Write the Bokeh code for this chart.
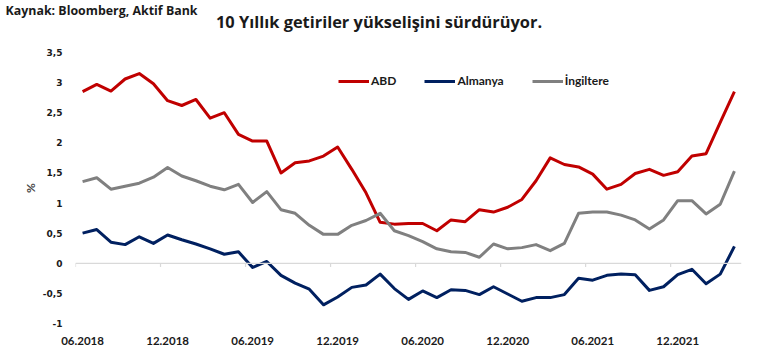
from bokeh.plotting import figure
from bokeh.models import (FixedTicker, CustomJSTickFormatter, Span, Legend,
                          LegendItem, Range1d, Div)
from bokeh.layouts import column
from bokeh.embed import file_html
from bokeh.resources import INLINE
import pandas as pd

# ---- data ----
months = [p.strftime("%m.%Y") for p in pd.period_range("2018-06", "2022-04", freq="M")]
tick_labels = ["06.2018", "12.2018", "06.2019", "12.2019",
               "06.2020", "12.2020", "06.2021", "12.2021"]
abd = [2.85, 2.97, 2.86, 3.06, 3.15, 2.98, 2.70, 2.62, 2.72, 2.41, 2.50, 2.14,
       2.03, 2.03, 1.50, 1.67, 1.70, 1.78, 1.93, 1.56, 1.17, 0.68, 0.65, 0.66,
       0.66, 0.54, 0.72, 0.69, 0.89, 0.85, 0.93, 1.06, 1.37, 1.75, 1.64, 1.60,
       1.48, 1.23, 1.31, 1.49, 1.56, 1.46, 1.52, 1.78, 1.82, 2.34, 2.85]
almanya = [0.50, 0.56, 0.35, 0.31, 0.44, 0.33, 0.47, 0.39, 0.32, 0.24, 0.15, 0.19,
           -0.07, 0.03, -0.20, -0.33, -0.43, -0.69, -0.56, -0.40, -0.36, -0.18, -0.42, -0.60,
           -0.46, -0.57, -0.44, -0.45, -0.52, -0.39, -0.51, -0.63, -0.57, -0.57, -0.52, -0.25,
           -0.28, -0.20, -0.18, -0.19, -0.45, -0.39, -0.19, -0.10, -0.34, -0.18, 0.28]
ingiltere = [1.355, 1.42, 1.23, 1.28, 1.33, 1.43, 1.59, 1.45, 1.37, 1.28, 1.22, 1.31,
             1.01, 1.19, 0.89, 0.83, 0.63, 0.48, 0.48, 0.63, 0.71, 0.83, 0.54, 0.46,
             0.36, 0.24, 0.19, 0.18, 0.10, 0.32, 0.24, 0.26, 0.31, 0.21, 0.33, 0.83,
             0.85, 0.85, 0.80, 0.72, 0.57, 0.72, 1.04, 1.04, 0.82, 0.98, 1.53]
y_ticks = [-1, -0.5, 0, 0.5, 1, 1.5, 2, 2.5, 3, 3.5]

series_names = ["ABD", "Almanya", "İngiltere"]
colors = ["#C00000", "#002060", "#808080"]
source_text = "Kaynak: Bloomberg, Aktif Bank"
title_text = "10 Yıllık getiriler yükselişini sürdürüyor."

FONT = "Lato"
HFONT = "Open Sans"
x = list(range(len(months)))
tick_idx = [months.index(t) for t in tick_labels]

# ---- header (source + title) ----
header = Div(
    text=(
        '<div style="position:relative;width:747px;height:40px;margin:0;padding:0;'
        f'font-family:\'{HFONT}\';font-weight:bold;color:#1a1a1a;">'
        f'<span style="position:absolute;left:5.5px;top:5.0px;font-size:12.4px;line-height:1;'
        f'white-space:nowrap;">{source_text}</span>'
        f'<span style="position:absolute;left:216px;top:13.9px;font-size:16.4px;line-height:1;'
        f'white-space:nowrap;">{title_text}</span>'
        '</div>'
    ),
    width=747, height=40, margin=(0, 0, 0, 0),
)

p = figure(width=747, height=307, output_backend="svg", toolbar_location=None,
           x_range=Range1d(-0.5, len(months) - 0.5), y_range=Range1d(-1, 3.5),
           min_border_left=75, min_border_right=6, min_border_top=12, min_border_bottom=22,
           margin=(0, 0, 0, 0))
p.grid.visible = False
p.outline_line_color = None
p.background_fill_color = "white"
p.border_fill_color = "white"

# y axis
p.yaxis.ticker = FixedTicker(ticks=y_ticks)
p.yaxis.formatter = CustomJSTickFormatter(code="return tick.toString().replace('.', ',');")
p.yaxis.axis_line_color = None
p.yaxis.major_tick_line_color = None
p.yaxis.minor_tick_line_color = None
p.yaxis.major_tick_out = 0
p.yaxis.major_label_standoff = 13
p.yaxis.major_label_text_font = "DejaVu Sans"
p.yaxis.major_label_text_font_style = "bold"
p.yaxis.major_label_text_font_size = "9px"
p.yaxis.major_label_text_color = "#1a1a1a"
p.yaxis.axis_label = "%"
p.yaxis.axis_label_text_font = FONT
p.yaxis.axis_label_text_font_style = "bold"
p.yaxis.axis_label_text_font_size = "12px"
p.yaxis.axis_label_standoff = 2

# x axis (labels only, at bottom)
p.xaxis.ticker = FixedTicker(ticks=tick_idx)
p.xaxis.major_label_overrides = {i: months[i] for i in tick_idx}
p.xaxis.axis_line_color = None
p.xaxis.major_tick_line_color = None
p.xaxis.minor_tick_line_color = None
p.xaxis.major_label_standoff = 7
p.xaxis.major_label_text_font = FONT
p.xaxis.major_label_text_font_style = "bold"
p.xaxis.major_label_text_font_size = "11.5px"
p.xaxis.major_label_text_color = "#1a1a1a"

# zero axis line with between-category tick marks
p.add_layout(Span(location=0, dimension="width", line_color="#d9d9d9", line_width=1.2))
tb = [i - 0.5 for i in tick_idx]
p.segment(x0=tb, y0=[0] * len(tb), x1=tb, y1=[-0.06] * len(tb),
          line_color="#d9d9d9", line_width=1.2)

renderers = []
for name, vals, c in zip(series_names, [abd, almanya, ingiltere], colors):
    r = p.line(x, vals, line_color=c, line_width=3, line_join="round")
    renderers.append(r)

legend = Legend(items=[LegendItem(label=n, renderers=[r]) for n, r in zip(series_names, renderers)],
                orientation="horizontal", location=(263, 235),
                glyph_width=31, glyph_height=14, label_standoff=2, spacing=28,
                padding=0, margin=0, border_line_color=None, background_fill_alpha=0,
                label_text_font=FONT, label_text_font_style="bold",
                label_text_font_size="12px", label_text_color="#1a1a1a")
p.add_layout(legend)

layout = column(header, p, spacing=0, margin=(0, 0, 0, 0))
open("out.html", "w").write(file_html(layout, INLINE))
